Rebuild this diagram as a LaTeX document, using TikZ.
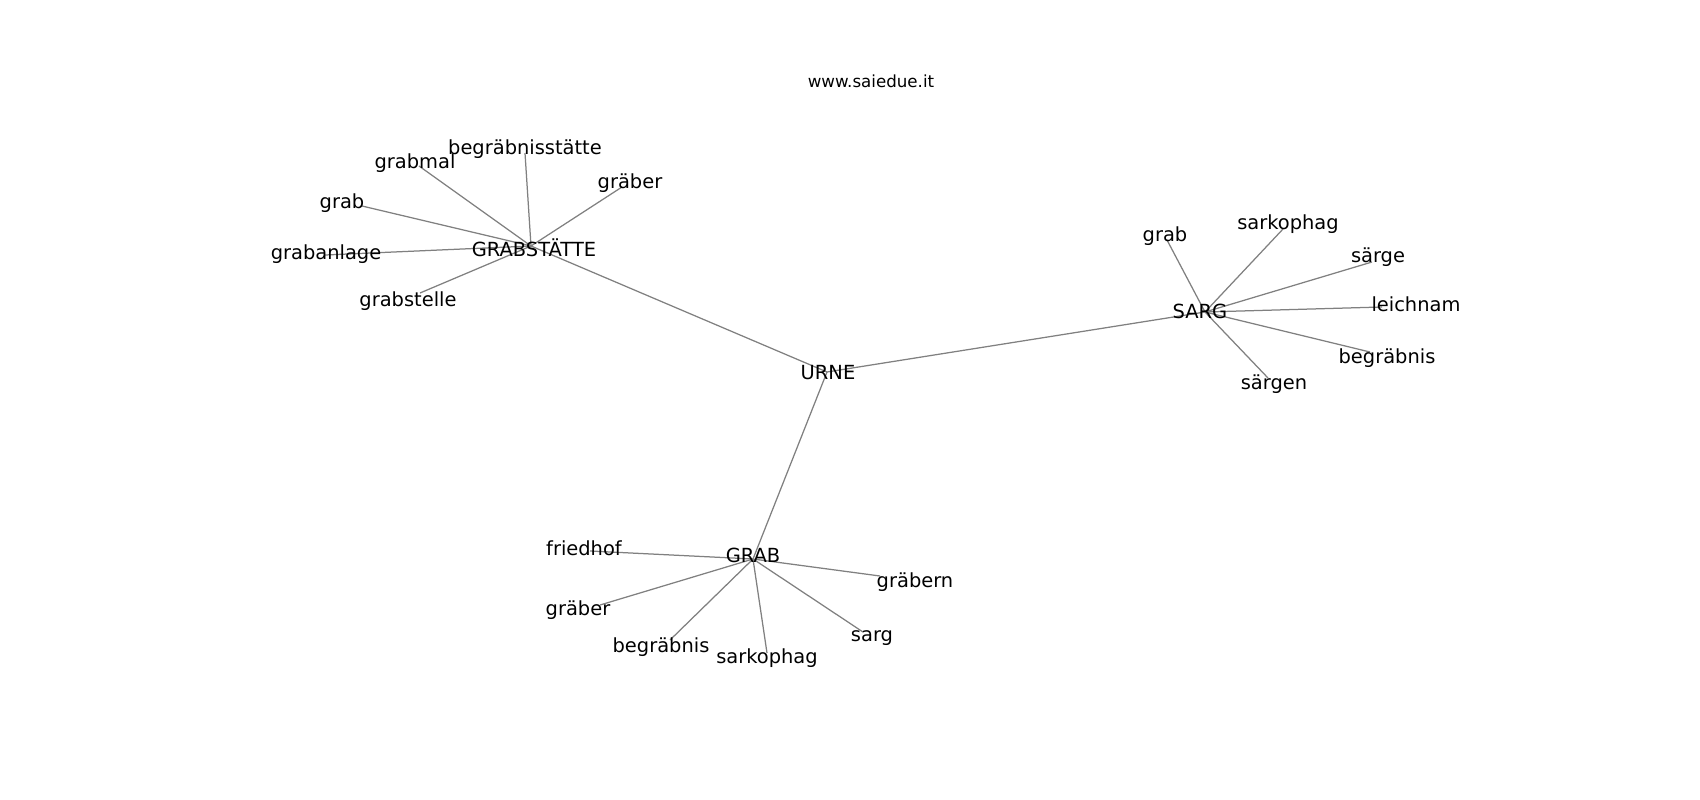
\documentclass[tikz,border=0pt]{standalone}
\usepackage{fontspec}
\setmainfont{DejaVu Sans}
\definecolor{edgegray}{RGB}{128,128,128}
\tikzset{
  lab/.style={inner sep=0pt, yshift=-0.5bp, font=\fontsize{14.05pt}{17pt}\selectfont, text=black},
  ttl/.style={inner sep=0pt, yshift=-0.5bp, font=\fontsize{12.05pt}{14pt}\selectfont, text=black},
  edge/.style={draw=edgegray, line width=0.9bp}
}
\begin{document}
\begin{tikzpicture}[x=0.72bp, y=-0.72bp]
\useasboundingbox (0,0) rectangle (1700,800);
% graph vertices
\coordinate (vURNE) at (827,372);
\coordinate (vGS) at (531,246);
\coordinate (vSARG) at (1205,312);
\coordinate (vGRAB) at (753,559);
% GRABSTAETTE leaves
\coordinate (vgs1) at (525,153);
\coordinate (vgs2) at (419,166);
\coordinate (vgs3) at (362,206);
\coordinate (vgs4) at (325,255);
\coordinate (vgs5) at (420,293);
\coordinate (vgs6) at (622,187);
% SARG leaves
\coordinate (vs1) at (1167,240);
\coordinate (vs2) at (1283,229);
\coordinate (vs3) at (1372,262);
\coordinate (vs4) at (1382,307);
\coordinate (vs5) at (1370,352);
\coordinate (vs6) at (1268,378);
% GRAB leaves
\coordinate (vg1) at (590,551);
\coordinate (vg2) at (600,605);
\coordinate (vg3) at (670,640);
\coordinate (vg4) at (767,653);
\coordinate (vg5) at (863,632);
\coordinate (vg6) at (880,576);
% edges
\draw[edge] (vURNE) -- (vGS);
\draw[edge] (vURNE) -- (vSARG);
\draw[edge] (vURNE) -- (vGRAB);
\foreach \n in {vgs1,vgs2,vgs3,vgs4,vgs5,vgs6} \draw[edge] (vGS) -- (\n);
\foreach \n in {vs1,vs2,vs3,vs4,vs5,vs6} \draw[edge] (vSARG) -- (\n);
\foreach \n in {vg1,vg2,vg3,vg4,vg5,vg6} \draw[edge] (vGRAB) -- (\n);
% labels
\node[ttl] (title) at (871,81) {www.saiedue.it};
\node[lab] (URNE) at (828,372) {URNE};
\node[lab] (GS) at (534,247) {GRABSTÄTTE};
\node[lab] (SARG) at (1200,311) {SARG};
\node[lab] (GRAB) at (753,555) {GRAB};
\node[lab] (gs1) at (525,148) {begräbnisstätte};
\node[lab] (gs2) at (415,162) {grabmal};
\node[lab] (gs3) at (342,202) {grab};
\node[lab] (gs4) at (326,253) {grabanlage};
\node[lab] (gs5) at (408,300) {grabstelle};
\node[lab] (gs6) at (630,182) {gräber};
\node[lab] (s1) at (1165,235) {grab};
\node[lab] (s2) at (1288,223) {sarkophag};
\node[lab] (s3) at (1378,256) {särge};
\node[lab] (s4) at (1416,304) {leichnam};
\node[lab] (s5) at (1387,357) {begräbnis};
\node[lab] (s6) at (1274,383) {särgen};
\node[lab] (g1) at (584,548) {friedhof};
\node[lab] (g2) at (578,609) {gräber};
\node[lab] (g3) at (661,646) {begräbnis};
\node[lab] (g4) at (767,657) {sarkophag};
\node[lab] (g5) at (872,637) {sarg};
\node[lab] (g6) at (915,581) {gräbern};
\end{tikzpicture}
\end{document}
